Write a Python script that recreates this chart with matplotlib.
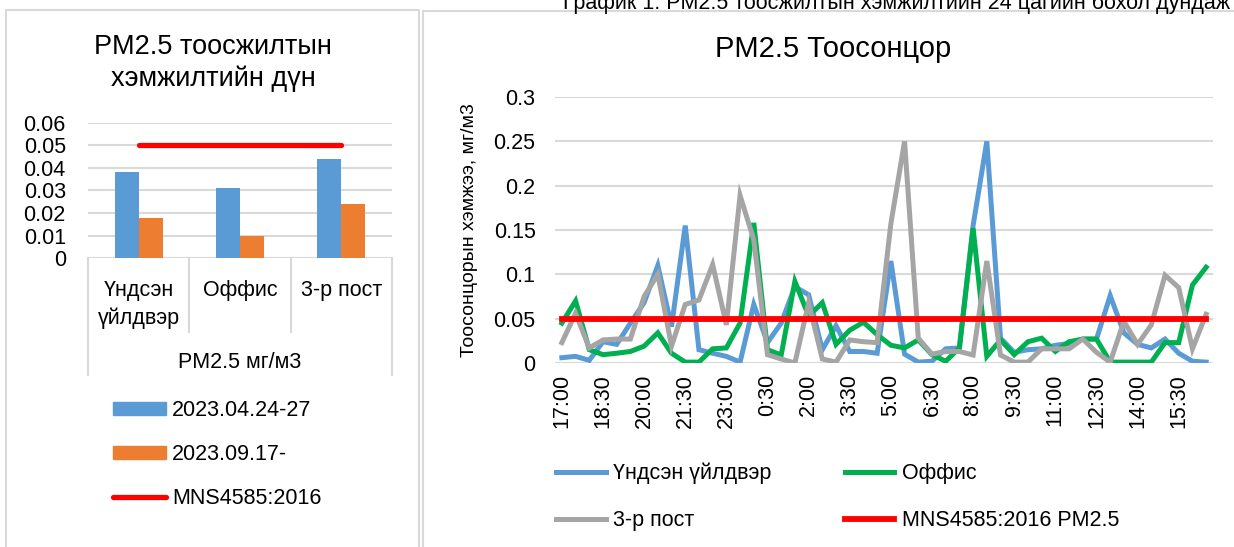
import matplotlib
matplotlib.use("Agg")
import matplotlib.pyplot as plt
from matplotlib.patches import Rectangle, Patch
from matplotlib.lines import Line2D

plt.rcParams['font.family'] = ['Liberation Sans', 'DejaVu Sans']

# ---- data: left chart (average PM2.5, mg/m3) ----
bar_categories = ["Үндсэн\nүйлдвэр", "Оффис", "3-р пост"]
bar_group = "PM2.5 мг/м3"
bar_april = [0.038, 0.031, 0.044]
bar_sept = [0.018, 0.010, 0.024]
bar_limit = [0.05, 0.05, 0.05]
bar_series = ["2023.04.24-27", "2023.09.17-", "MNS4585:2016"]

# ---- data: right chart (30 min readings) ----
times = ["17:00", "17:30", "18:00", "18:30", "19:00", "19:30", "20:00", "20:30",
         "21:00", "21:30", "22:00", "22:30", "23:00", "23:30", "0:00", "0:30",
         "1:00", "1:30", "2:00", "2:30", "3:00", "3:30", "4:00", "4:30",
         "5:00", "5:30", "6:00", "6:30", "7:00", "7:30", "8:00", "8:30",
         "9:00", "9:30", "10:00", "10:30", "11:00", "11:30", "12:00", "12:30",
         "13:00", "13:30", "14:00", "14:30", "15:00", "15:30", "16:00", "16:30"]
main_plant = [0.006, 0.0075, 0.003, 0.024, 0.021, 0.045, 0.068, 0.11,
              0.041, 0.155, 0.015, 0.011, 0.0075, 0.001, 0.066, 0.023,
              0.045, 0.086, 0.077, 0.015, 0.042, 0.013, 0.013, 0.011,
              0.115, 0.010, 0.001, 0.002, 0.016, 0.017, 0.155, 0.25,
              0.028, 0.012, 0.015, 0.016, 0.02, 0.022, 0.027, 0.027,
              0.076, 0.034, 0.021, 0.017, 0.027, 0.011, 0.002, 0.001]
office = [0.045, 0.07, 0.015, 0.0094, 0.011, 0.013, 0.019, 0.034,
          0.011, 0.001, 0.001, 0.016, 0.017, 0.045, 0.158, 0.015,
          0.009, 0.092, 0.053, 0.068, 0.021, 0.037, 0.046, 0.032,
          0.020, 0.017, 0.026, 0.0094, 0.002, 0.017, 0.152, 0.0075,
          0.026, 0.0094, 0.024, 0.028, 0.013, 0.024, 0.027, 0.027,
          0.001, 0.001, 0.001, 0.001, 0.023, 0.023, 0.088, 0.108]
post3 = [0.023, 0.056, 0.017, 0.026, 0.027, 0.027, 0.075, 0.1,
         0.019, 0.066, 0.071, 0.111, 0.043, 0.189, 0.139, 0.0094,
         0.0045, 0.0, 0.068, 0.0045, 0.001, 0.026, 0.024, 0.023,
         0.157, 0.25, 0.028, 0.010, 0.013, 0.013, 0.009, 0.115,
         0.009, 0.001, 0.001, 0.016, 0.016, 0.016, 0.027, 0.012,
         0.001, 0.047, 0.021, 0.043, 0.099, 0.085, 0.016, 0.055]
limit = [0.05] * len(times)
line_names = ["Үндсэн үйлдвэр", "Оффис", "3-р пост", "MNS4585:2016 PM2.5"]

W, H = 1234, 547
BLUE, ORANGE, GREEN, GRAY, RED = "#5b9bd5", "#ed7d31", "#00b050", "#a5a5a5", "#ff0000"
GRID = "#d9d9d9"
FS = 15.5


def rect(x0, y0, x1, y1):
    # pixel box (top-left origin) -> figure fraction
    return [x0 / W, 1 - y1 / H, (x1 - x0) / W, (y1 - y0) / H]


fig = plt.figure(figsize=(W / 100, H / 100), dpi=100)

# chart frames
fig.add_artist(Rectangle((6 / W, -0.05), (419 - 6) / W, 1.05 - 10 / H,
                         transform=fig.transFigure, fill=False, ec=GRID, lw=1.5))
fig.add_artist(Rectangle((423 / W, -0.05), (1260 - 423) / W, 1.05 - 11 / H,
                         transform=fig.transFigure, fill=False, ec=GRID, lw=1.5))

# header text (cut off at top of page, as in the source)
fig.text(563 / W, 1 - 9.5 / H,
         "График 1. PM2.5 тоосжилтын хэмжилтийн 24 цагийн бохол дундаж дүн",
         fontsize=15.5, va="baseline", ha="left")

# ---------------- left chart ----------------
ax1 = fig.add_axes(rect(88, 123, 392, 258))
x = range(len(bar_categories))
bw = 0.238
ax1.bar([i - bw / 2 for i in x], bar_april, width=bw, color=BLUE, zorder=2)
ax1.bar([i + bw / 2 for i in x], bar_sept, width=bw, color=ORANGE, zorder=2)
ax1.plot(list(x), bar_limit, color=RED, lw=3.8, solid_capstyle="round", zorder=3)
ax1.set_xlim(-0.5, 2.5)
ax1.set_ylim(0, 0.06)
yt = [0, 0.01, 0.02, 0.03, 0.04, 0.05, 0.06]
ax1.set_yticks(yt)
ax1.set_yticklabels(["0" if v == 0 else f"{v:g}" for v in yt], fontsize=FS)
ax1.tick_params(axis="y", length=0, pad=16)
ax1.set_xticks([])
ax1.grid(axis="y", color=GRID, lw=1.5, zorder=0)
for s in ax1.spines.values():
    s.set_visible(False)
ax1.axhline(0, color=GRID, lw=1.5, zorder=1)

# multi-level category axis
tr = ax1.get_xaxis_transform()
h1 = 258 - 123
for xb in [-0.5, 0.5, 1.5, 2.5]:
    bottom = 375 if xb in (-0.5, 2.5) else 332
    ax1.plot([xb, xb], [0, -(bottom - 258) / h1], transform=tr, color=GRID,
             lw=1.5, clip_on=False)
for i, lab in enumerate(bar_categories):
    ax1.text(i, -(280 - 258) / h1, lab, transform=tr, ha="center", va="top",
             fontsize=FS, linespacing=1.4)
ax1.text(1, -(362 - 258) / h1, bar_group, transform=tr, ha="center", va="center",
         fontsize=FS)

fig.text(213 / W, 1 - 63 / H, "PM2.5 тоосжилтын\nхэмжилтийн дүн", ha="center",
         va="center", fontsize=19.5, linespacing=1.25)

leg1_handles = [Patch(color=BLUE), Patch(color=ORANGE),
                Line2D([], [], color=RED, lw=3.8, solid_capstyle="round")]
fig.legend(leg1_handles, bar_series, loc="upper left",
           bbox_to_anchor=(113 / W, 1 - 400 / H), frameon=False, fontsize=FS,
           handlelength=2.45, handleheight=0.6, handletextpad=0.3,
           labelspacing=1.08, borderpad=0, borderaxespad=0)

# ---------------- right chart ----------------
ax2 = fig.add_axes(rect(555, 97, 1213, 363))
xi = range(len(times))
l1, = ax2.plot(xi, main_plant, color=BLUE, lw=3.6, solid_joinstyle="miter")
l2, = ax2.plot(xi, office, color=GREEN, lw=3.6, solid_joinstyle="miter")
l3, = ax2.plot(xi, post3, color=GRAY, lw=3.6, solid_joinstyle="miter")
l4, = ax2.plot(xi, limit, color=RED, lw=4.2)
ax2.set_xlim(-0.5, len(times) - 0.5)
ax2.set_ylim(0, 0.3)
yt2 = [0, 0.05, 0.1, 0.15, 0.2, 0.25, 0.3]
ax2.set_yticks(yt2)
ax2.set_yticklabels(["0" if v == 0 else f"{v:g}" for v in yt2], fontsize=FS)
ax2.set_xticks(list(xi)[::3])
ax2.set_xticklabels(times[::3], rotation=90, fontsize=FS)
ax2.tick_params(axis="y", length=0, pad=14)
ax2.tick_params(axis="x", length=0, pad=8)
ax2.grid(axis="y", color=GRID, lw=1.5, zorder=0)
for s in ax2.spines.values():
    s.set_visible(False)
ax2.set_ylabel("Тоосонцорын хэмжээ, мг/м3", fontsize=14)
ax2.yaxis.set_label_coords(-(555 - 478) / (1213 - 555), 0.5)

fig.text(833 / W, 1 - 49 / H, "PM2.5 Тоосонцор", ha="center", va="center",
         fontsize=21)

ax2.legend([l1, l3, l2, l4], [line_names[0], line_names[2], line_names[1], line_names[3]],
           ncol=2, loc="upper left", bbox_to_anchor=(556 / W, 1 - 463 / H),
           bbox_transform=fig.transFigure, frameon=False, fontsize=FS,
           handlelength=2.3, handletextpad=0.35, columnspacing=3.4,
           labelspacing=1.2, borderpad=0, borderaxespad=0)

fig.savefig("out.png", dpi=100)
